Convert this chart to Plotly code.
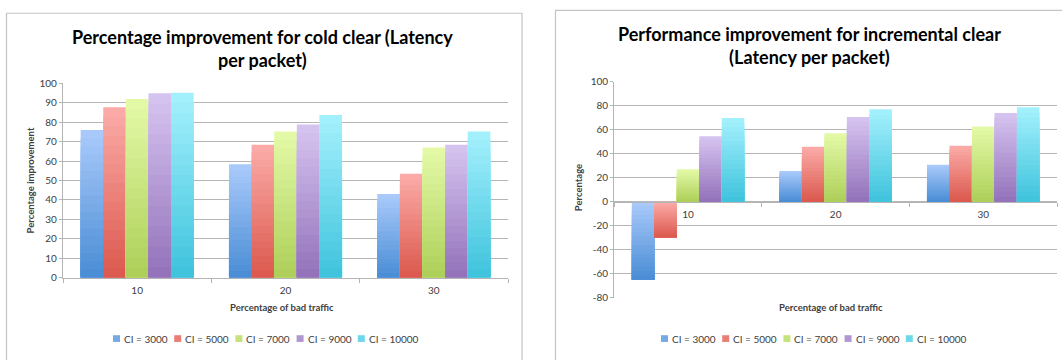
import plotly.graph_objects as go

# ---------------------------------------------------------------- data
categories = ["10", "20", "30"]
series_names = ["CI = 3000", "CI = 5000", "CI = 7000", "CI = 9000", "CI = 10000"]

# Percentage improvement for cold clear (latency per packet)
cold_ci3000 = [76, 58.4, 43]
cold_ci5000 = [87.7, 68.4, 53.5]
cold_ci7000 = [92, 75.3, 67]
cold_ci9000 = [95, 78.8, 68.4]
cold_ci10000 = [95.2, 83.8, 75.3]

# Performance improvement for incremental clear (latency per packet)
inc_ci3000 = [-65, 25.6, 30.7]
inc_ci5000 = [-29.6, 45.7, 46.5]
inc_ci7000 = [27, 56.9, 62.5]
inc_ci9000 = [54.5, 70.5, 73.7]
inc_ci10000 = [69.7, 76.9, 78.5]

# value-axis ticks of the incremental chart (plain hyphen for negatives)
inc_tick_values = [-80, -60, -40, -20, 0, 20, 40, 60, 80, 100]
inc_tick_labels = ["-80", "-60", "-40", "-20", "0", "20", "40", "60", "80", "100"]

cold_series = [cold_ci3000, cold_ci5000, cold_ci7000, cold_ci9000, cold_ci10000]
inc_series = [inc_ci3000, inc_ci5000, inc_ci7000, inc_ci9000, inc_ci10000]

# ---------------------------------------------------------------- style
W, H = 1062, 360
FONT = "Lato"
TEXT = "#404040"
GRID = "#b5b5b5"
FRAME = "#c4c4c4"

# light (top) and dark (bottom) ends of each bar's vertical gradient
top_colors = ["#a8c9fa", "#fbaaa7", "#e3f9a6", "#d5c3ef", "#a3f0fd"]
bottom_colors = ["#4b8ed6", "#dc5a4f", "#aed05a", "#9473bb", "#40c4dd"]
GRAD_STEPS = 18


def px_x(v):
    return v / W


def px_y(v):
    return 1 - v / H


def mix(c1, c2, t):
    a = [int(c1[i:i + 2], 16) for i in (1, 3, 5)]
    b = [int(c2[i:i + 2], 16) for i in (1, 3, 5)]
    return "#" + "".join(f"{round(a[j] + (b[j] - a[j]) * t):02x}" for j in range(3))


def add_gradient_bars(fig, values, idx, xaxis, yaxis):
    """Draw one series as bars shaded light-at-top to dark-at-bottom.

    Each bar is painted as a stack of shrinking layers anchored at the
    bar's lower end, so every bar carries its own full gradient."""
    lows = [min(0, v) for v in values]
    spans = [abs(v) for v in values]
    for k in range(GRAD_STEPS):
        frac = 1 - k / GRAD_STEPS
        color = mix(top_colors[idx], bottom_colors[idx], k / (GRAD_STEPS - 1))
        fig.add_trace(go.Bar(
            x=categories,
            y=[s * frac for s in spans],
            base=lows,
            xaxis=xaxis, yaxis=yaxis,
            offsetgroup=f"s{idx}",
            marker=dict(color=color, line=dict(width=0)),
            showlegend=False,
            hoverinfo="skip",
        ))


fig = go.Figure()
for i in range(len(series_names)):
    add_gradient_bars(fig, cold_series[i], i, "x", "y")
    add_gradient_bars(fig, inc_series[i], i, "x2", "y2")

# ---------------------------------------------------------------- axes
left_x_dom = [px_x(63), px_x(508)]
left_y_dom = [px_y(280.7), px_y(79.3)]
right_x_dom = [px_x(614.3), px_x(1057)]
right_y_dom = [px_y(301.7), px_y(77.3)]
left_range = [0, 100]
right_range = [-80, 100]

# the category axis of the incremental chart sits on the zero line
zero_pos = right_y_dom[0] + (0 - right_range[0]) / (right_range[1] - right_range[0]) * (
    right_y_dom[1] - right_y_dom[0])

tick_font = dict(family=FONT, size=10, color=TEXT)
common_x = dict(type="category", showline=True, linecolor=GRID, linewidth=1.3,
                ticks="outside", tickson="boundaries", ticklen=4, tickcolor=GRID,
                tickwidth=1.3, showgrid=False, tickfont=tick_font, fixedrange=True,
                ticklabelstandoff=3)
common_y = dict(showline=True, linecolor=GRID, linewidth=1.3, ticks="outside",
                ticklen=3, tickcolor=GRID, tickwidth=1.3, showgrid=True,
                gridcolor=GRID, gridwidth=1.3, zeroline=False, tickfont=tick_font,
                fixedrange=True)

fig.update_layout(
    xaxis=dict(domain=left_x_dom, anchor="y", **common_x),
    yaxis=dict(domain=left_y_dom, anchor="x", range=left_range, dtick=10, **common_y),
    xaxis2=dict(domain=right_x_dom, anchor="free", position=zero_pos, **common_x),
    yaxis2=dict(domain=right_y_dom, anchor="x2", range=right_range,
                tickmode="array", tickvals=inc_tick_values, ticktext=inc_tick_labels,
                **common_y),
)

# ---------------------------------------------------------------- text
annotations = [
    dict(text="<b>Percentage improvement for cold clear (Latency<br>per packet)</b>",
         x=px_x(262), y=px_y(43), font=dict(family=FONT, size=18, color="#000000")),
    dict(text="<b>Performance improvement for incremental clear<br>(Latency per packet)</b>",
         x=px_x(809), y=px_y(40), font=dict(family=FONT, size=18, color="#000000")),
    dict(text="<b>Percentage of bad traffic</b>", x=px_x(282), y=px_y(311.7),
         font=dict(family=FONT, size=9.5, color=TEXT)),
    dict(text="<b>Percentage of bad traffic</b>", x=px_x(831), y=px_y(311.7),
         font=dict(family=FONT, size=9.5, color=TEXT)),
    dict(text="<b>Percentage improvement</b>", x=px_x(30), y=px_y(180), textangle=-90,
         font=dict(family=FONT, size=9.5, color=TEXT)),
    dict(text="<b>Percentage</b>", x=px_x(578), y=px_y(188), textangle=-90,
         font=dict(family=FONT, size=9.5, color=TEXT)),
]

shapes = [
    # chart frames
    dict(type="rect", x0=px_x(6.5), x1=px_x(522), y0=px_y(375), y1=px_y(6.5),
         line=dict(color=FRAME, width=1.2), fillcolor="rgba(0,0,0,0)", layer="below"),
    dict(type="rect", x0=px_x(555.5), x1=px_x(1075), y0=px_y(375), y1=px_y(3.5),
         line=dict(color=FRAME, width=1.2), fillcolor="rgba(0,0,0,0)", layer="below"),
]

# legends under each chart: small swatch followed by the series name
LEGEND_STEP = 61.2
for start in (113, 661):
    for i, name in enumerate(series_names):
        x0 = start + i * LEGEND_STEP
        shapes.append(dict(type="rect", x0=px_x(x0), x1=px_x(x0 + 7),
                           y0=px_y(347.5), y1=px_y(340.5),
                           fillcolor=mix(top_colors[i], bottom_colors[i], 0.55),
                           line=dict(width=0)))
        annotations.append(dict(text=name, x=px_x(x0 + 9), y=px_y(344), xanchor="left",
                                font=dict(family=FONT, size=10, color=TEXT)))

for a in annotations:
    a.setdefault("xref", "paper")
    a.setdefault("yref", "paper")
    a.setdefault("showarrow", False)
    a.setdefault("xanchor", "center")
    a.setdefault("yanchor", "middle")

for s in shapes:
    s["xref"] = "paper"
    s["yref"] = "paper"

fig.update_layout(
    width=W, height=H,
    margin=dict(l=0, r=0, t=0, b=0),
    paper_bgcolor="#ffffff", plot_bgcolor="#ffffff",
    barmode="group", bargap=0.238, bargroupgap=0,
    showlegend=False,
    annotations=annotations,
    shapes=shapes,
    font=dict(family=FONT, color=TEXT),
)

fig.write_html("out.html", config=dict(displayModeBar=False))
